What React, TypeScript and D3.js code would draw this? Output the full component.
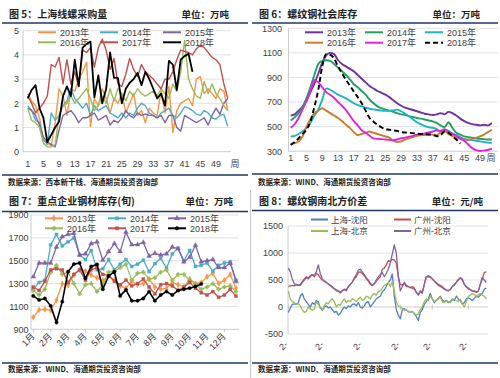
import React from "react";
import * as d3 from "d3";

// ---------- Fig 5: 上海线螺采购量 (万吨), weekly ----------
const weeks = d3.range(1, 53);
const weekTicks = [1, 5, 9, 13, 17, 21, 25, 29, 33, 37, 41, 45, 49];
const p5Ticks = [0, 1, 2, 3, 4, 5];
const buy2013 = [2.4,2.1,1.9,1.4,0.5,0.35,0.25,1.2,2.6,2.3,1.5,2.6,2.5, 3.0,3.3,3.7,1.05,2.2,1.9,2.6,2.2,1.6,2.2,2.0,2.4,1.6, 2.0,2.4,1.5,1.7,1.2,1.8,1.6,1.5,2.5,1.6,2.7,0.8,1.7, 2.0,2.1,2.2,1.9,3.0,3.1,2.4,2.6,2.4,2.2,2.6,2.5,1.7];
const buy2014 = [1.9,1.7,1.3,1.2,0.5,0.3,1.6,1.3,1.5,1.9,2.1,2.6,2.2, 2.0,1.8,2.0,1.5,1.9,1.7,1.8,1.9,1.6,1.5,1.4,1.6,1.4, 1.6,1.5,1.8,2.0,1.9,1.6,1.5,1.4,1.6,1.7,1.8,1.5,1.4, 1.6,1.85,1.8,1.7,1.55,1.5,1.7,1.6,1.4,1.35,1.5,1.55,1.05];
const buy2015 = [1.8,1.7,1.5,1.1,0.6,0.4,0.3,0.2,0.9,1.5,1.6,1.7,1.5, 1.2,1.4,1.4,1.5,1.6,1.3,1.4,1.5,1.1,1.3,1.2,1.4,1.7, 1.5,1.4,1.6,1.5,1.55,1.5,1.5,1.4,1.5,1.2,1.5,1.5,1.0, 0.85,1.5,1.4,1.3,1.2,1.3,1.4,1.1,1.5,1.8,1.55,2.0,2.2];
const buy2016 = [1.8,1.3,1.2,1.0,0.35,0.2,0.2,0.3,1.5,1.9,2.0,2.3,2.0, 2.2,2.4,2.6,2.2,1.7,1.9,2.3,2.0,2.6,2.1,2.6,2.4,2.1, 2.5,2.3,2.6,2.4,2.3,2.4,2.5,2.3,2.6,2.4,2.2,2.8,2.5, 3.3,4.6,3.0,2.6,2.3,2.2,2.9,2.4,2.8,2.4,2.2,1.9,1.7];
const buy2017 = [2.3,2.0,1.6,1.8,2.0,2.3,3.6,3.5,3.9,2.8,3.8,2.8,3.3, 2.7,4.2,4.1,4.3,3.5,4.3,4.65,4.2,3.4,3.85,2.8,2.7,3.2, 3.85,3.4,3.1,3.6,3.3,3.15,3.0,2.8,2.6,3.0,3.0,3.3,3.8, 4.2,4.15,4.1,4.0,4.25,4.4,4.3,4.1,3.9,3.8,3.6,2.8,2.2];
const buy2018 = [2.2,2.55,2.75,1.8,1.4,0.4,0.7,1.0,1.25,2.3,2.7,2.3,3.8, 2.7,4.3,4.45,4.55,2.25,3.15,2.0,2.6,4.1,3.05,3.05,2.0,2.6, 2.85,3.0,3.25,2.75,3.3,3.0,2.6,2.2,2.4,1.9,3.75,3.6,2.55, 3.8,3.95,4.05,3.3];

// ---------- Fig 6: 螺纹钢社会库存 (万吨), weekly ----------
const p6Ticks = [300, 500, 700, 900, 1100, 1300];
const stock2013 = [590,600,630,660,710,780,850,930,1020,1080,1100,1090,1040, 1010,990,970,950,920,890,860,830,810,790,775,760,740, 715,690,670,655,645,635,625,615,605,600,595,600,610, 600,620,610,590,565,545,530,520,515,510,515,510,530];
const stock2014 = [550,575,610,660,730,820,920,1010,1035,1040,1035,1010,980, 950,920,885,845,820,790,760,720,690,665,650,638,630, 620,610,600,595,585,578,570,565,558,550,543,530,510, 495,535,490,450,435,420,415,410,405,400,398,395,395];
const stock2015 = [420,425,440,460,490,530,590,640,720,810,800,780,760, 745,730,710,690,675,665,655,645,640,635,630,628,628, 632,638,625,605,585,560,535,520,505,495,490,480,455, 475,465,445,430,415,400,395,390,385,380,375,370,368];
const stock2016 = [360,365,380,420,500,560,610,630,650,630,610,590,570, 545,515,490,455,430,440,450,460,450,440,430,420,410, 385,375,380,395,405,415,425,430,432,435,435,430,450, 462,440,422,410,400,395,390,400,410,420,435,455,475];
const stock2017 = [490,520,570,640,710,790,880,860,820,780,760,735,700, 670,635,590,545,510,470,450,425,405,400,398,395,392, 390,395,405,410,418,425,435,440,445,452,460,470,465, 480,455,440,425,405,385,355,325,308,302,305,310,320];
const stock2018 = [350,375,405,440,475,540,660,800,990,1090,1085,1055,990, 935,880,835,785,740,690,630,570,540,515,495,478,475, 470,465,455,452,450,447,443,440,438,436,434,422,430, 460,450,422,395,362];

// ---------- Fig 7: 重点企业钢材库存(旬) (万吨), 36 ten-day periods ----------
const months = ["1月","2月","3月","4月","5月","6月","7月","8月","9月","10月","11月","12月"];
const p7Ticks = [900, 1100, 1300, 1500, 1700, 1900];
const ent2013 = [1005,1070,1075,1065,1155,1300,1285,1375,1420,1410,1375,1350, 1330,1370,1330,1280,1260,1320,1290,1300,1340,1270,1250,1260, 1310,1290,1270,1340,1300,1310,1360,1390,1300,1330,1380,1260];
const ent2014 = [1250,1310,1330,1640,1730,1630,1665,1700,1550,1510,1590,1420, 1430,1510,1420,1470,1510,1450,1470,1505,1405,1475,1520,1435, 1560,1610,1500,1590,1450,1460,1480,1410,1460,1480,1490,1330];
const ent2015 = [1360,1480,1480,1480,1620,1710,1730,1740,1550,1560,1650,1665, 1505,1580,1650,1580,1750,1640,1640,1660,1540,1565,1550,1560, 1620,1605,1490,1530,1635,1490,1500,1510,1440,1440,1480,1320];
const ent2016 = [1240,1200,1250,1400,1460,1380,1400,1300,1210,1290,1300,1230, 1290,1400,1410,1440,1470,1330,1390,1400,1340,1350,1400,1420, 1330,1380,1380,1330,1300,1250,1270,1300,1250,1270,1280,1230];
const ent2017 = [1270,1240,1320,1420,1430,1420,1310,1380,1420,1330,1420,1440, 1380,1370,1320,1290,1330,1280,1300,1340,1270,1210,1290,1300, 1280,1240,1270,1310,1260,1220,1200,1230,1180,1200,1250,1190];
const ent2018 = [1192,1157,1170,1105,960,1142,1404,1470,1480,1345,1450,1468, 1250,1366,1404,1192,1245,1150,1150,1170,1230,1150,1200,1230, 1200,1240,1250,1260,1275,1297];

// ---------- Fig 8: 螺纹钢南北方价差 (元/吨) ----------
const p8Ticks = [-500, 0, 500, 1000, 1500];
const spreadTickIdx = [0, 18, 37, 56, 72, 90];
const spreadTickLabels = ["2-", "2-", "2-", "2-", "2-", "2-"];
const shSy = [-100,-20,50,60,50,80,200,250,150,100, 50,0,80,50,120,100,-20,-60,0,20, -20,0,-50,-100,-80,-150,-120,-50,0,-30, 20,0,50,60,20,80,0,-20,20,80, 100,0,50,100,150,180,200,280,320,380, 450,500,610,200,-50,-150,-220,-50,-30,-60, -80,-100,-80,-120,-180,-250,-100,-50,50,100, 150,250,150,80,120,160,200,130,100,120, 80,100,150,120,200,150,120,50,80,150, 170,150,120,160,200,180,220,250,330,350];
const gzSy = [380,390,400,390,410,400,420,470,520,560, 540,580,600,560,620,600,540,500,480,460, 420,400,360,340,320,300,280,300,330,320, 380,420,460,520,560,640,650,620,580,520, 480,420,400,430,480,520,560,700,720,780, 860,840,880,870,820,560,420,400,440,380, 380,360,380,350,280,220,300,260,420,560, 560,550,520,480,450,420,400,380,340,320, 300,320,380,400,450,500,540,500,420,380, 350,320,300,290,270,300,420,520,640,650];
const shBj = [300,150,100,80,50,60,20,-50,-100,-80, 0,-30,-60,-40,100,50,0,-50,20,80, 60,120,150,100,0,50,30,100,150,80, 120,100,150,130,100,150,180,120,140,200, 180,150,220,250,220,280,300,350,400,420, 450,380,470,300,100,20,0,-30,-60,-50, -80,-100,-80,-120,-150,-130,-50,0,100,150, 120,200,150,100,120,150,180,100,80,120, 100,80,130,150,120,100,150,60,0,100, 200,220,250,230,200,230,250,220,200,150];
const gzBj = [720,650,520,430,420,400,400,450,500,540, 520,560,600,580,650,780,620,520,480,450, 430,400,380,340,300,290,260,300,320,300, 370,420,460,540,600,680,700,650,600,540, 500,440,400,440,500,560,600,640,560,620, 700,820,980,1150,1000,560,300,380,460,400, 380,360,350,330,270,230,280,260,420,560, 580,560,520,480,440,400,380,360,330,310, 300,330,380,420,460,510,540,520,420,370, 330,320,290,300,280,290,420,550,500,450];

const FONT = "Arial, 'Liberation Sans', 'Noto Sans CJK SC', sans-serif";
const CJK = "'Noto Sans CJK SC', 'Noto Sans', sans-serif";
const NAVY = "#1F3864";
const GRID = "#D9D9D9";
const AXIS = "#BFBFBF";
const TXT = "#404040";

function Frame(props: any) {
  const { x0, title, unit, unitX, titleY, headY, footY, footTextY, source } = props;
  return (
    <g>
      <text x={x0 + 9} y={titleY} fontSize={10} fontWeight="bold" fontFamily={CJK} fill="#222">{title}</text>
      <text x={unitX} y={titleY} fontSize={9.5} fontWeight="bold" fontFamily={CJK} fill="#222" textAnchor="end">{unit}</text>
      <line x1={x0 + 2} x2={x0 + 248} y1={headY} y2={headY} stroke={NAVY} strokeWidth={1.6} />
      <line x1={x0 + 2} x2={x0 + 248} y1={footY} y2={footY} stroke={NAVY} strokeWidth={1.6} />
      <text x={x0 + 8} y={footTextY} fontSize={7.5} fontWeight="bold" fontFamily={CJK} fill="#222">{source}</text>
    </g>
  );
}

function Legend(props: any) {
  const { items, cols, rows } = props;
  return (
    <g>
      {items.map((it: any, i: number) => {
        const x = cols[i % 3];
        const y = rows[Math.floor(i / 3)];
        return (
          <g key={it.name}>
            <line x1={x} x2={x + 18} y1={y} y2={y} stroke={it.color} strokeWidth={it.lw || 2} strokeDasharray={it.dash || undefined} />
            {it.symbol ? (
              <path d={d3.symbol().type(it.symbol).size(it.symSize || 12)() || ""} transform={`translate(${x + 9},${y})`} fill={it.color} stroke={it.color} strokeWidth={0.6} />
            ) : null}
            <text x={x + 22} y={y + 3.3} fontSize={9} fill={TXT} fontFamily={FONT}>{it.name}</text>
          </g>
        );
      })}
    </g>
  );
}

function Fig5() {
  const x = d3.scaleLinear().domain([1, 49]).range([27.7, 216]);
  const y = d3.scaleLinear().domain([0, 5]).range([151.7, 30.7]);
  const line = d3.line<number>().x((_, i) => x(weeks[i])).y((d) => y(d));
  const series = [
    { name: "2013年", data: buy2013, color: "#F79646" },
    { name: "2014年", data: buy2014, color: "#4BACC6" },
    { name: "2015年", data: buy2015, color: "#8064A2" },
    { name: "2016年", data: buy2016, color: "#9BBB59" },
    { name: "2017年", data: buy2017, color: "#C0504D" },
    { name: "2018年", data: buy2018, color: "#000000" },
  ];
  const left = 23, right = 231;
  return (
    <g>
      {p5Ticks.map((t) => (
        <g key={t}>
          <line x1={left} x2={right} y1={y(t)} y2={y(t)} stroke={t === 0 ? AXIS : GRID} strokeWidth={0.8} />
          <text x={19} y={y(t) + 3.3} fontSize={9} fill={TXT} textAnchor="end" fontFamily={FONT}>{t}</text>
        </g>
      ))}
      <line x1={left} x2={left} y1={y(5)} y2={y(0)} stroke={AXIS} strokeWidth={0.8} />
      {weekTicks.map((w) => (
        <text key={w} x={x(w)} y={166.5} fontSize={9} fill={TXT} textAnchor="middle" fontFamily={FONT}>{w}</text>
      ))}
      <text x={235} y={166.5} fontSize={9} fill={TXT} textAnchor="middle" fontFamily={CJK}>周</text>
      {series.map((s) => (
        <path key={s.name} d={line(s.data) || ""} fill="none" stroke={s.color} strokeWidth={s.color === "#000000" ? 1.8 : 1.4} strokeLinejoin="round" />
      ))}
      <Legend items={series} cols={[38, 100, 163]} rows={[32.3, 42.3]} />
    </g>
  );
}

function Fig6() {
  const x = d3.scaleLinear().domain([1, 49]).range([290.7, 480]);
  const y = d3.scaleLinear().domain([300, 1300]).range([151.2, 28.3]);
  const line = d3.line<number>().x((_, i) => x(weeks[i])).y((d) => y(d)).curve(d3.curveMonotoneX);
  const series = [
    { name: "2013年", data: stock2013, color: "#7030A0" },
    { name: "2014年", data: stock2014, color: "#21A060" },
    { name: "2015年", data: stock2015, color: "#1EB4C8" },
    { name: "2016年", data: stock2016, color: "#CC7A30" },
    { name: "2017年", data: stock2017, color: "#E024D8" },
    { name: "2018年", data: stock2018, color: "#000000", dash: "5,3" },
  ];
  const left = 288.5, right = 498;
  return (
    <g>
      {p6Ticks.map((t) => (
        <g key={t}>
          <line x1={left} x2={right} y1={y(t)} y2={y(t)} stroke={t === 300 ? AXIS : GRID} strokeWidth={0.8} />
          <text x={282} y={y(t) + 3.3} fontSize={9} fill={TXT} textAnchor="end" fontFamily={FONT}>{t}</text>
        </g>
      ))}
      <line x1={left} x2={left} y1={y(1300)} y2={y(300)} stroke={AXIS} strokeWidth={0.8} />
      {weekTicks.map((w) => (
        <text key={w} x={x(w)} y={161} fontSize={9} fill={TXT} textAnchor="middle" fontFamily={FONT}>{w}</text>
      ))}
      <text x={491} y={161} fontSize={9} fill={TXT} textAnchor="middle" fontFamily={CJK}>周</text>
      {series.map((s) => (
        <path key={s.name} d={line(s.data) || ""} fill="none" stroke={s.color} strokeWidth={1.9} strokeDasharray={s.dash || undefined} strokeLinejoin="round" />
      ))}
      <Legend items={series} cols={[305, 365, 425]} rows={[32.3, 42.7]} />
    </g>
  );
}

function Fig7() {
  const x = d3.scaleLinear().domain([0, 35]).range([33.3, 236]);
  const y = d3.scaleLinear().domain([900, 1900]).range([329.3, 215]);
  const line = d3.line<number>().x((_, i) => x(i)).y((d) => y(d));
  const series = [
    { name: "2013年", data: ent2013, color: "#F79646", symbol: d3.symbolDiamond, symSize: 10 },
    { name: "2014年", data: ent2014, color: "#4BACC6", symbol: d3.symbolSquare, symSize: 9 },
    { name: "2015年", data: ent2015, color: "#8064A2", symbol: d3.symbolTriangle, symSize: 10 },
    { name: "2016年", data: ent2016, color: "#9BBB59", symbol: d3.symbolCross, symSize: 9 },
    { name: "2017年", data: ent2017, color: "#C0504D", symbol: d3.symbolSquare, symSize: 9 },
    { name: "2018年", data: ent2018, color: "#000000", symbol: d3.symbolCircle, symSize: 9 },
  ];
  const left = 31, right = 239;
  return (
    <g>
      {p7Ticks.map((t) => (
        <g key={t}>
          <line x1={left} x2={right} y1={y(t)} y2={y(t)} stroke={t === 900 ? AXIS : GRID} strokeWidth={0.8} />
          <text x={28.5} y={y(t) + 3.3} fontSize={9} fill={TXT} textAnchor="end" fontFamily={FONT}>{t}</text>
        </g>
      ))}
      <line x1={left} x2={left} y1={y(1900)} y2={y(900)} stroke={AXIS} strokeWidth={0.8} />
      {months.map((m, i) => (
        <g key={m}>
          <line x1={x(i * 3)} x2={x(i * 3)} y1={y(900)} y2={y(900) + 3} stroke={AXIS} strokeWidth={0.8} />
          <text transform={`translate(${x(i * 3) + 2},${337}) rotate(-45)`} fontSize={9} fill={TXT} textAnchor="end" fontFamily={FONT}>{m}</text>
        </g>
      ))}
      {series.map((s) => (
        <g key={s.name}>
          <path d={line(s.data) || ""} fill="none" stroke={s.color} strokeWidth={s.color === "#000000" ? 1.6 : 1.3} strokeLinejoin="round" />
          {s.data.map((d, i) => (
            <path key={i} d={d3.symbol().type(s.symbol).size(s.symSize)() || ""} transform={`translate(${x(i)},${y(d)})`} fill={s.color} stroke={s.color} strokeWidth={0.4} />
          ))}
        </g>
      ))}
      <Legend items={series} cols={[45, 108, 168]} rows={[218.3, 228.3]} />
    </g>
  );
}

function Fig8() {
  const x = d3.scaleLinear().domain([0, 99]).range([288.3, 486.3]);
  const y = d3.scaleLinear().domain([-500, 1500]).range([334, 226]);
  const line = d3.line<number>().x((_, i) => x(i)).y((d) => y(d));
  const series = [
    { name: "上海-沈阳", data: shSy, color: "#4F81BD" },
    { name: "广州-沈阳", data: gzSy, color: "#C0504D" },
    { name: "上海-北京", data: shBj, color: "#9BBB59" },
    { name: "广州-北京", data: gzBj, color: "#8064A2" },
  ];
  const left = 288, right = 488;
  const legendPos = [[311, 219.5], [394, 219.5], [311, 231], [394, 231]];
  return (
    <g>
      {p8Ticks.map((t) => (
        <g key={t}>
          <line x1={left} x2={right} y1={y(t)} y2={y(t)} stroke={t === 0 ? AXIS : GRID} strokeWidth={0.8} />
          <text x={283} y={y(t) + 3.3} fontSize={9} fill={TXT} textAnchor="end" fontFamily={FONT}>{t}</text>
        </g>
      ))}
      <line x1={left} x2={left} y1={y(1500)} y2={y(-500)} stroke={AXIS} strokeWidth={0.8} />
      {spreadTickIdx.map((k, i) => (
        <g key={k}>
          <line x1={x(k)} x2={x(k)} y1={y(0) - 2.5} y2={y(0) + 2.5} stroke={AXIS} strokeWidth={0.8} />
          <text transform={`translate(${x(k)},${345}) rotate(-45)`} fontSize={9} fill={TXT} textAnchor="end" fontFamily={FONT}>{spreadTickLabels[i]}</text>
        </g>
      ))}
      {series.map((s) => (
        <path key={s.name} d={line(s.data) || ""} fill="none" stroke={s.color} strokeWidth={1.3} strokeLinejoin="round" />
      ))}
      {series.map((s, i) => (
        <g key={s.name}>
          <line x1={legendPos[i][0]} x2={legendPos[i][0] + 17} y1={legendPos[i][1]} y2={legendPos[i][1]} stroke={s.color} strokeWidth={2} />
          <text x={legendPos[i][0] + 20} y={legendPos[i][1] + 3.2} fontSize={8.5} fill={TXT} fontFamily={FONT}>{s.name}</text>
        </g>
      ))}
    </g>
  );
}

export default function App() {
  return (
    <svg width={500} height={378} viewBox="0 0 500 378" style={{ position: "absolute", left: 0, top: 0, background: "#fff" }}>
      <rect x={0} y={0} width={500} height={378} fill="#fff" />
      <line x1={250.5} x2={250.5} y1={190} y2={378} stroke="#C8C8C8" strokeWidth={1} />
      <Frame x0={0} title="图 5：上海线螺采购量" unit="单位：万吨" unitX={229} titleY={17.5} headY={23} footY={175} footTextY={184.5} source="数据来源：西本新干线、海通期货投资咨询部" />
      <Frame x0={250} title="图 6：螺纹钢社会库存" unit="单位：万吨" unitX={480} titleY={17.5} headY={23} footY={174} footTextY={184.5} source="数据来源：WIND、海通期货投资咨询部" />
      <Frame x0={0} title="图 7：重点企业钢材库存(旬)" unit="单位：万吨" unitX={233} titleY={205} headY={211.5} footY={363} footTextY={372} source="数据来源：WIND、海通期货投资咨询部" />
      <Frame x0={250} title="图 8：螺纹钢南北方价差" unit="单位：元/吨" unitX={483} titleY={204.5} headY={210.5} footY={363} footTextY={372} source="数据来源：WIND、海通期货投资咨询部" />
      <Fig5 />
      <Fig6 />
      <Fig7 />
      <Fig8 />
    </svg>
  );
}
